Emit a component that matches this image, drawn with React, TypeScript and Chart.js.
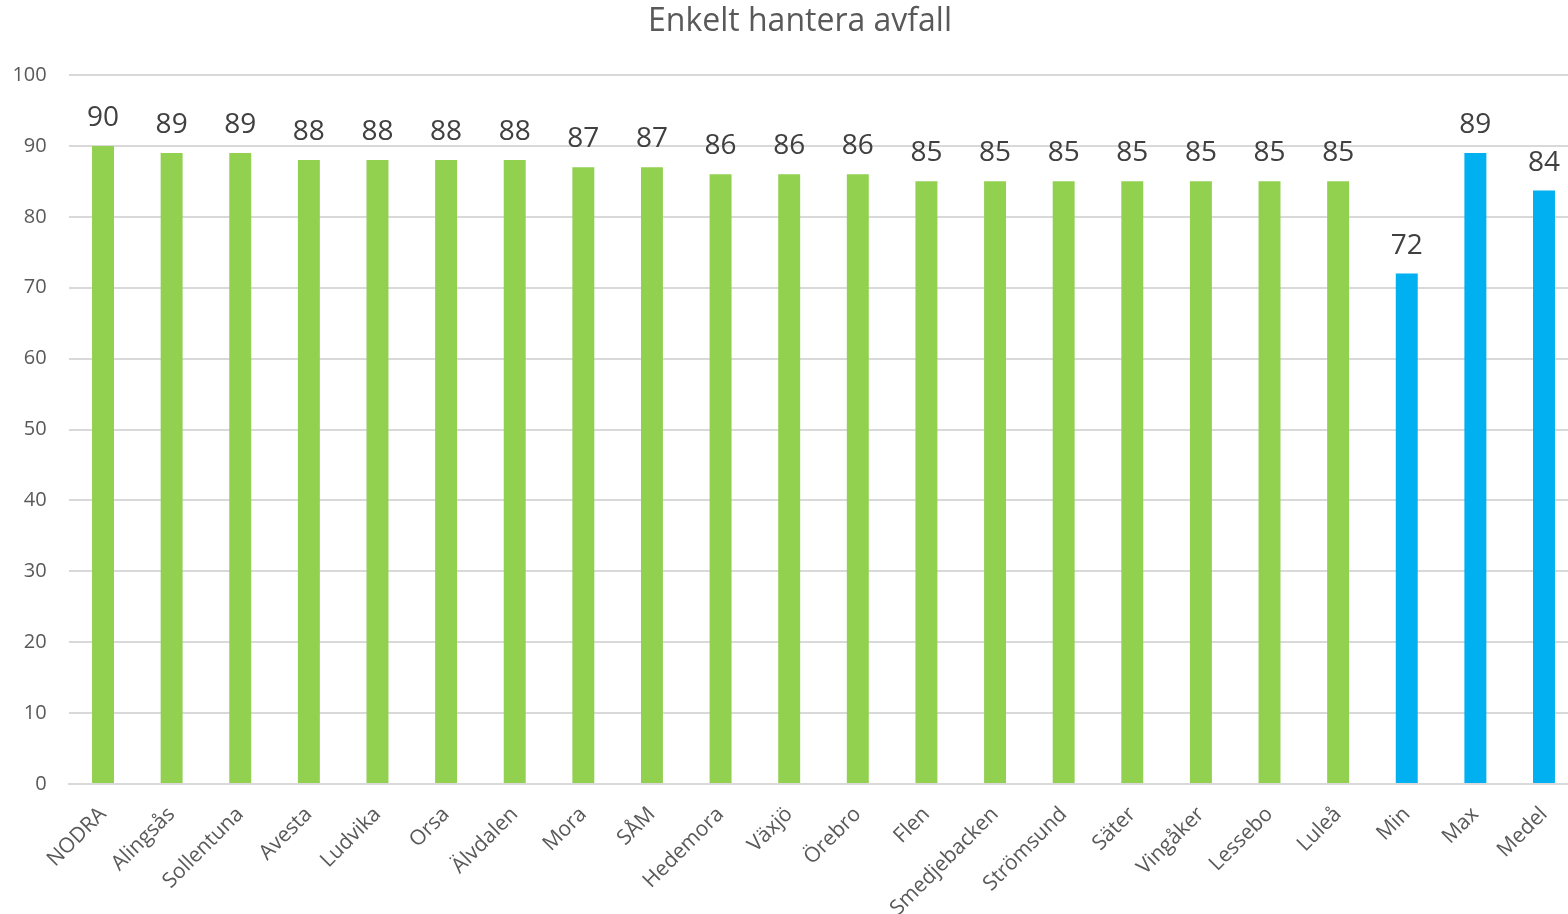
import React, { useEffect, useRef } from "react";
import { Chart, registerables } from "chart.js";

Chart.register(...registerables);

const categories = [
  "NODRA", "Alingsås", "Sollentuna", "Avesta", "Ludvika", "Orsa", "Älvdalen",
  "Mora", "SÅM", "Hedemora", "Växjö", "Örebro", "Flen", "Smedjebacken",
  "Strömsund", "Säter", "Vingåker", "Lessebo", "Luleå", "Min", "Max", "Medel",
];
const values = [90, 89, 89, 88, 88, 88, 88, 87, 87, 86, 86, 86, 85, 85, 85, 85, 85, 85, 85, 72, 89, 83.7];
const summaryCategories = ["Min", "Max", "Medel"];
const titleText = "Enkelt hantera avfall";
const GREEN = "#92D050";
const BLUE = "#00B0F0";

const dataLabelPlugin = {
  id: "dataLabels",
  afterDatasetsDraw(chart: any) {
    const ctx = chart.ctx;
    const meta = chart.getDatasetMeta(0);
    const ds = chart.data.datasets[0];
    ctx.save();
    ctx.font = '28px "Open Sans"';
    ctx.fillStyle = "#404040";
    ctx.textAlign = "center";
    ctx.textBaseline = "alphabetic";
    meta.data.forEach((bar: any, i: number) => {
      const v = ds.data[i];
      ctx.fillText(String(Math.round(v)), bar.x, bar.y - 20);
    });
    ctx.restore();
  },
};

const titlePlugin = {
  id: "customTitle",
  afterDraw(chart: any) {
    const ctx = chart.ctx;
    ctx.save();
    ctx.font = '32px "Open Sans"';
    ctx.fillStyle = "#595959";
    ctx.textAlign = "center";
    ctx.textBaseline = "middle";
    ctx.fillText(titleText, 800, 22);
    ctx.restore();
  },
};

export default function App() {
  const ref = useRef<HTMLCanvasElement | null>(null);
  useEffect(() => {
    if (!ref.current) return;
    const chart = new Chart(ref.current, {
      type: "bar",
      data: {
        labels: categories,
        datasets: [
          {
            data: values,
            backgroundColor: categories.map((c) => (summaryCategories.includes(c) ? BLUE : GREEN)),
            barPercentage: 0.8,
            categoryPercentage: 0.4,
          },
        ],
      },
      options: {
        animation: false,
        responsive: false,
        maintainAspectRatio: false,
        layout: { padding: { left: 0, right: 1.7, top: 75, bottom: 0 } },
        plugins: {
          legend: { display: false },
          tooltip: { enabled: false },
          title: { display: false },
        },
        scales: {
          x: {
            grid: { display: false, drawTicks: false },
            border: { display: true, color: "#d9d9d9", width: 2 },
            ticks: {
              color: "#595959",
              font: { family: "Open Sans", size: 21 },
              maxRotation: 45,
              minRotation: 45,
              autoSkip: false,
              padding: 18,
            },
            afterFit(scale: any) {
              scale.height = 130;
            },
          },
          y: {
            min: 0,
            max: 100,
            grid: { color: "#d9d9d9", lineWidth: 2, drawTicks: false },
            border: { display: false },
            ticks: {
              stepSize: 10,
              color: "#595959",
              font: { family: "Open Sans", size: 20 },
              padding: 22,
            },
            afterFit(scale: any) {
              scale.width = 68.7;
            },
          },
        },
      },
      plugins: [dataLabelPlugin, titlePlugin],
    });
    return () => chart.destroy();
  }, []);
  return (
    <div
      style={{
        position: "fixed",
        left: 0,
        top: 0,
        width: 1568,
        height: 914,
        overflow: "hidden",
        background: "#fff",
      }}
    >
      <canvas ref={ref} width={1580} height={914} style={{ display: "block", width: 1580, height: 914 }} />
    </div>
  );
}
